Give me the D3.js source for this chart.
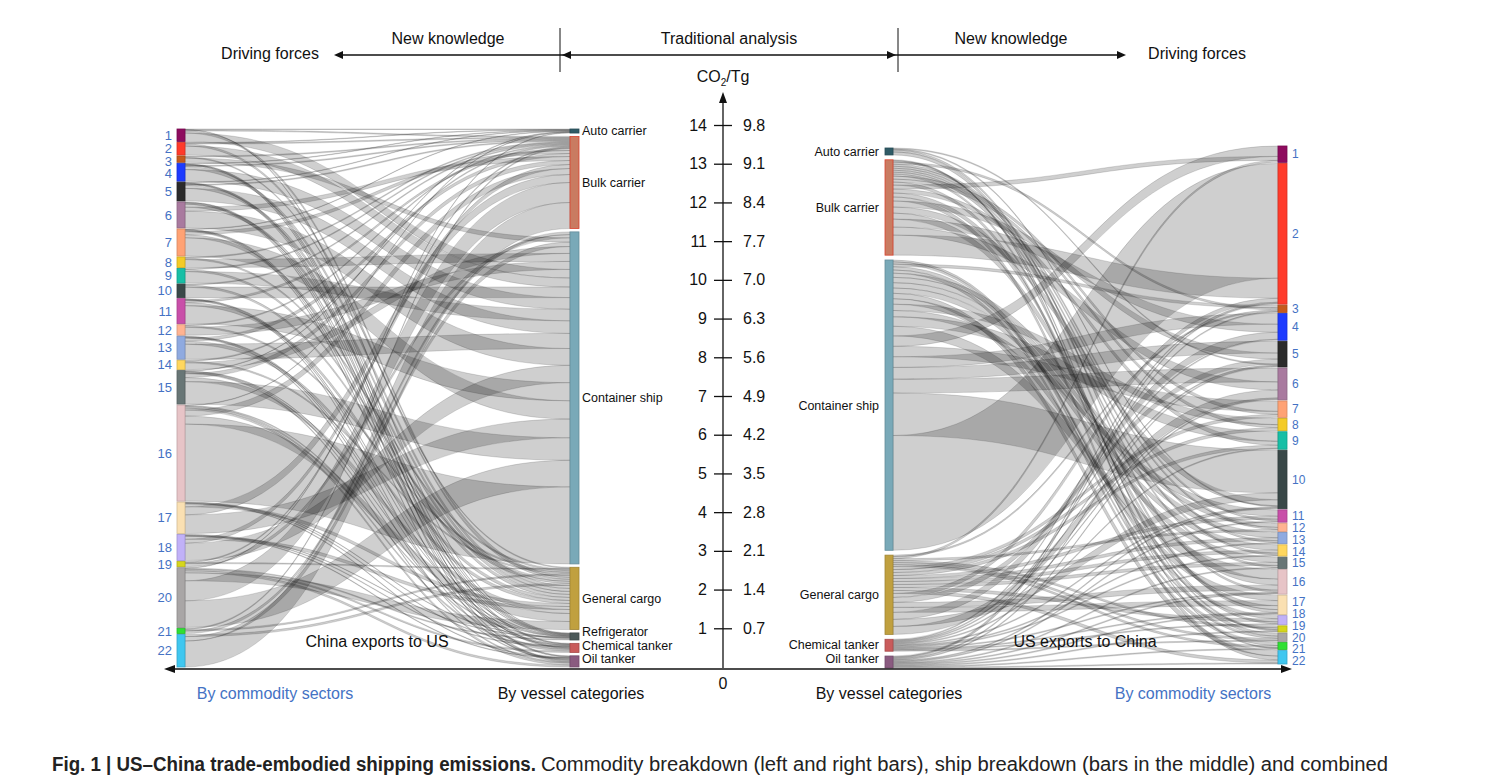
<!DOCTYPE html>
<html>
<head>
<meta charset="utf-8">
<script src="https://cdn.jsdelivr.net/npm/d3@7"></script>
<style>
  body { margin: 0; background: #fff; }
  text { font-family: "Liberation Sans", Arial, Helvetica, sans-serif; }
</style>
</head>
<body>
<svg id="chart" width="1493" height="776"></svg>
<script>
// ---- data (Tg CO2) ----
var sectors = d3.range(1, 23).map(String);
var sectorColors = ["#8e0b5e", "#ff3b2b", "#c65a1c", "#1d3bff", "#2b2b2b", "#a97a9f", "#ffa274",
  "#f4cb26", "#17bfa6", "#394848", "#c94fa9", "#ffb391", "#8faae0", "#ffd75e", "#687676",
  "#e7c4c7", "#fae0b2", "#c1b1f8", "#d6d61c", "#a9a6a6", "#2fe033", "#3fc7f0"];

var vesselsCN = ["Auto carrier", "Bulk carrier", "Container ship", "General cargo", "Refrigerator", "Chemical tanker", "Oil tanker"];
var vesselsUS = ["Auto carrier", "Bulk carrier", "Container ship", "General cargo", "Chemical tanker", "Oil tanker"];
var vesselColors = {
  "Auto carrier": "#2f5b66", "Bulk carrier": "#c97b61", "Container ship": "#79a9b8",
  "General cargo": "#c0a03f", "Refrigerator": "#4b5959", "Chemical tanker": "#c95b5b", "Oil tanker": "#8a5b80"
};

// China exports to US, by sector 1..22, one array per vessel category
var cnAuto      = [.013,.013,0,.013,.013,0,.013,0,0,0,0,0,0,0,.013,.013,0,0,0,.013,0,0];
var cnBulk      = [.026,.026,.026,.026,.026,.103,.078,.026,.026,.026,.052,.026,.078,.026,.103,.155,.207,.103,.026,.517,.026,.672];
var cnContainer = [.220,.233,.111,.300,.326,.434,.473,.207,.300,.274,.468,.207,.390,.178,.581,1.990,.483,.447,.083,.687,.070,.114];
var cnGeneral   = [.052,.052,.026,.078,.078,.078,.078,.039,.052,.052,.078,.039,.078,.039,.103,.207,.078,.078,.026,.207,.039,.052];
var cnRefrig    = [.013,0,0,.013,.013,.013,.013,0,0,0,.013,0,.013,0,.013,.026,.013,.013,0,.026,0,0];
var cnChem      = [0,0,0,.016,.016,.018,.018,0,0,0,.016,0,.016,0,.026,.039,.016,.016,0,.039,0,0];
var cnOil       = [0,0,0,.016,.016,.026,.026,0,0,0,.021,0,.021,0,.026,.052,.016,.016,0,.052,0,0];

// US exports to China
var usAuto      = [0,0,0,0,.018,0,0,0,0,.018,0,0,0,0,0,.036,.054,0,0,0,0,0];
var usBulk      = [.072,.362,.036,.145,.109,.145,.054,.054,.072,.109,.036,.036,.036,.036,.036,.109,.072,.036,.025,.054,.018,.072];
var usContainer = [.188,2.075,.049,.194,.212,.250,.188,.114,.172,.769,.114,.076,.096,.096,.096,.174,.099,.058,.033,.040,.058,.098];
var usGeneral   = [.036,.072,.027,.127,.090,.145,.054,.054,.054,.127,.054,.036,.054,.054,.054,.090,.090,.054,.036,.036,.036,.054];
var usChem      = [0,.018,0,.018,.018,.018,0,0,.018,.018,0,0,.018,.018,0,.018,.018,.018,0,.018,0,0];
var usOil       = [0,.018,.018,0,.018,.018,0,0,0,.018,.018,0,0,0,.018,.018,.018,0,.018,0,.018,.018];

var ticksCN = d3.range(1, 15);                                  // left axis labels
var ticksUS = [0.7, 1.4, 2.1, 2.8, 3.5, 4.2, 4.9, 5.6, 6.3, 7.0, 7.7, 8.4, 9.1, 9.8]; // right axis labels

// ---- setup ----
var svg = d3.select("#chart");
svg.append("rect").attr("width", 1493).attr("height", 776).attr("fill", "#fff");

var yCN = d3.scaleLinear().domain([0, 14]).range([667, 125]),
    yUS = d3.scaleLinear().domain([0, 9.8]).range([667, 125]),
    kCN = d3.scaleLinear().domain([0, 14]).range([0, 542]),
    kUS = d3.scaleLinear().domain([0, 9.8]).range([0, 542]),
    blue = "#4472c4";

// Build nodes/links for one panel
function build(leftNames, rightNames, rows, leftIsSector) {
  var left = leftNames.map(function(n, i) { return {name: n, i: i, out: [], in: []}; }),
      right = rightNames.map(function(n, i) { return {name: n, i: i, out: [], in: []}; }),
      links = [];
  rows.forEach(function(vals, j) { // j = vessel index
    vals.forEach(function(v, i) { // i = sector index
      if (!v) return;
      var s = leftIsSector ? left[i] : left[j],
          t = leftIsSector ? right[j] : right[i],
          l = {source: s, target: t, value: v};
      s.out.push(l); t.in.push(l); links.push(l);
    });
  });
  left.concat(right).forEach(function(n) {
    n.value = Math.max(d3.sum(n.out, function(l) { return l.value; }), d3.sum(n.in, function(l) { return l.value; }));
  });
  return {left: left, right: right, links: links};
}

function stack(nodes, top, bottom, k) {
  var total = d3.sum(nodes, function(n) { return n.value; }),
      pad = (bottom - top - k(total)) / (nodes.length - 1),
      y = top;
  nodes.forEach(function(n) {
    n.y0 = y; n.y1 = y + k(n.value); y = n.y1 + pad;
  });
}

// links ordered by value at each end; dirL/dirR = 1 smallest on top, -1 largest on top
function place(g, k, dirL, dirR) {
  g.left.forEach(function(n) {
    var y = n.y0;
    n.out.sort(function(a, b) { return dirL * (a.value - b.value) || a.target.i - b.target.i; })
      .forEach(function(l) { l.sy0 = y; y += k(l.value); l.sy1 = y; });
  });
  g.right.forEach(function(n) {
    var y = n.y0;
    n.in.sort(function(a, b) { return dirR * (a.value - b.value) || a.source.i - b.source.i; })
      .forEach(function(l) { l.ty0 = y; y += k(l.value); l.ty1 = y; });
  });
}

function ribbon(l, x0, x1) {
  var xm = (x0 + x1) / 2, p = d3.path();
  p.moveTo(x0, l.sy0);
  p.bezierCurveTo(xm, l.sy0, xm, l.ty0, x1, l.ty0);
  p.lineTo(x1, l.ty1);
  p.bezierCurveTo(xm, l.ty1, xm, l.sy1, x0, l.sy1);
  p.closePath();
  return p.toString();
}

// spread label positions so they keep a minimum gap
function spread(nodes, gap, lo, hi) {
  nodes.forEach(function(n) { n.ly = (n.y0 + n.y1) / 2; });
  nodes[0].ly = Math.max(nodes[0].ly, lo);
  for (var i = 1; i < nodes.length; i++)
    nodes[i].ly = Math.max(nodes[i].ly, nodes[i - 1].ly + gap);
  nodes[nodes.length - 1].ly = Math.min(nodes[nodes.length - 1].ly, hi);
  for (i = nodes.length - 2; i >= 0; i--)
    nodes[i].ly = Math.min(nodes[i].ly, nodes[i + 1].ly - gap);
}

function drawPanel(g, x0, x1, w0, w1) {
  var panel = svg.append("g");
  panel.append("g").selectAll("path")
      .data(g.links.slice().sort(function(a, b) { return b.value - a.value; }))
      .enter().append("path")
      .attr("d", function(d) { return ribbon(d, x0 + w0, x1); })
      .attr("fill", "rgba(0,0,0,0.19)")
      .attr("stroke", "rgba(40,40,40,0.3)")
      .attr("stroke-width", 0.55);
  [[g.left, x0, w0], [g.right, x1, w1]].forEach(function(c) {
    panel.append("g").selectAll("rect")
        .data(c[0]).enter().append("rect")
        .attr("x", c[1]).attr("width", c[2])
        .attr("y", function(d) { return d.y0; })
        .attr("height", function(d) { return Math.max(1, d.y1 - d.y0); })
        .attr("fill", function(d) { return d.color; })
        .attr("stroke", function(d) { return d.name === "Bulk carrier" ? "#d9432f" : d3.color(d.color).darker(0.5); })
        .attr("stroke-width", 0.8);
  });
  return panel;
}

function labels(panel, nodes, x, anchor, size, color) {
  panel.append("g").selectAll("text").data(nodes).enter().append("text")
      .attr("x", x).attr("y", function(d) { return d.ly; })
      .attr("dy", "0.35em").attr("text-anchor", anchor)
      .attr("font-size", size).attr("fill", color)
      .text(function(d) { return d.name; });
}

// ---- China exports to US ----
var cn = build(sectors, vesselsCN, [cnAuto, cnBulk, cnContainer, cnGeneral, cnRefrig, cnChem, cnOil], true);
cn.left.forEach(function(n) { n.color = sectorColors[n.i]; });
cn.right.forEach(function(n) { n.color = vesselColors[n.name]; });
stack(cn.left, 129, 667, kCN);
stack(cn.right, 129, 667, kCN);
place(cn, kCN, 1, 1);
var pCN = drawPanel(cn, 177, 570, 8, 9);
spread(cn.left, 12.5, 134, 662);
spread(cn.right, 13.5, 131, 659);
labels(pCN, cn.left, 172, "end", 13, blue);
labels(pCN, cn.right, 582, "start", 12.5, "#111");

// ---- US exports to China ----
var us = build(vesselsUS, sectors, [usAuto, usBulk, usContainer, usGeneral, usChem, usOil], false);
us.left.forEach(function(n) { n.color = vesselColors[n.name]; });
us.right.forEach(function(n) { n.color = sectorColors[n.i]; });
stack(us.left, 148, 668, kUS);
stack(us.right, 146, 664, kUS);
place(us, kUS, 1, -1);
var pUS = drawPanel(us, 885, 1278, 8, 9);
spread(us.left, 14, 151, 659);
spread(us.right, 11.8, 152, 661);
labels(pUS, us.left, 879, "end", 12.5, "#111");
labels(pUS, us.right, 1292, "start", 12, blue);

// ---- centre axis ----
var axisG = svg.append("g").attr("transform", "translate(723,0)");
axisG.append("g").call(d3.axisLeft(yCN).tickValues(ticksCN).tickSize(9).tickPadding(7).tickFormat(d3.format("d")));
axisG.append("g").call(d3.axisRight(yUS).tickValues(ticksUS).tickSize(9).tickPadding(11).tickFormat(d3.format(".1f")));
axisG.selectAll(".domain").remove();
axisG.selectAll(".tick line").attr("stroke", "#111").attr("stroke-width", 1.3);
axisG.selectAll(".tick text").attr("font-size", 16).attr("fill", "#111")
    .attr("font-family", "'Liberation Sans', Arial, sans-serif");
axisG.append("line").attr("y1", 668).attr("y2", 100).attr("stroke", "#111").attr("stroke-width", 1.3);
axisG.append("path").attr("d", "M0,92L-4,103L4,103Z").attr("fill", "#111");
var co2 = axisG.append("text").attr("y", 82).attr("text-anchor", "middle").attr("font-size", 16).attr("fill", "#111");
co2.append("tspan").text("CO");
co2.append("tspan").attr("font-size", 10).attr("dy", 4).text("2");
co2.append("tspan").attr("dy", -4).text("/Tg");
axisG.append("text").attr("y", 689).attr("text-anchor", "middle").attr("font-size", 16).attr("fill", "#111").text("0");

// ---- baseline with arrows ----
svg.append("line").attr("x1", 172).attr("x2", 1284).attr("y1", 669).attr("y2", 669)
    .attr("stroke", "#111").attr("stroke-width", 1.3);
svg.append("path").attr("d", "M164,669L175,665L175,673Z").attr("fill", "#111");
svg.append("path").attr("d", "M1292,669L1281,665L1281,673Z").attr("fill", "#111");

// ---- header ----
var head = svg.append("g").attr("fill", "#111").attr("font-size", 16);
head.append("text").attr("x", 270).attr("y", 59).attr("text-anchor", "middle").text("Driving forces");
head.append("text").attr("x", 448).attr("y", 44).attr("text-anchor", "middle").text("New knowledge");
head.append("text").attr("x", 729).attr("y", 44).attr("text-anchor", "middle").text("Traditional analysis");
head.append("text").attr("x", 1011).attr("y", 44).attr("text-anchor", "middle").text("New knowledge");
head.append("text").attr("x", 1197).attr("y", 59).attr("text-anchor", "middle").text("Driving forces");
head.append("line").attr("x1", 340).attr("x2", 1120).attr("y1", 55).attr("y2", 55).attr("stroke", "#111").attr("stroke-width", 1.3);
[560, 898].forEach(function(x) {
  head.append("line").attr("x1", x).attr("x2", x).attr("y1", 28).attr("y2", 72).attr("stroke", "#111").attr("stroke-width", 1);
});
[[334, -1], [562, -1], [896, 1], [1126, 1]].forEach(function(a) {
  var x = a[0], d = a[1];
  head.append("path").attr("d", "M" + x + ",55L" + (x - d * 9) + ",51L" + (x - d * 9) + ",59Z");
});

// ---- panel titles & column labels ----
var lab = svg.append("g").attr("font-size", 16);
lab.append("text").attr("x", 377).attr("y", 647).attr("text-anchor", "middle").attr("fill", "#111").text("China exports to US");
lab.append("text").attr("x", 1085).attr("y", 647).attr("text-anchor", "middle").attr("fill", "#111").text("US exports to China");
lab.append("text").attr("x", 275).attr("y", 699).attr("text-anchor", "middle").attr("fill", blue).text("By commodity sectors");
lab.append("text").attr("x", 571).attr("y", 699).attr("text-anchor", "middle").attr("fill", "#111").text("By vessel categories");
lab.append("text").attr("x", 889).attr("y", 699).attr("text-anchor", "middle").attr("fill", "#111").text("By vessel categories");
lab.append("text").attr("x", 1193).attr("y", 699).attr("text-anchor", "middle").attr("fill", blue).text("By commodity sectors");

// ---- caption ----
var cap = svg.append("g").attr("fill", "#222").attr("font-size", 20)
    .style("font-family", "'Liberation Sans Narrow', 'DejaVu Sans Condensed', Arial, sans-serif");
cap.append("text").attr("x", 52).attr("y", 771).attr("font-weight", "bold")
    .attr("textLength", 484).attr("lengthAdjust", "spacingAndGlyphs")
    .text("Fig. 1 | US\u2013China trade-embodied shipping emissions.");
cap.append("text").attr("x", 541).attr("y", 771)
    .attr("textLength", 847).attr("lengthAdjust", "spacingAndGlyphs")
    .text("Commodity breakdown (left and right bars), ship breakdown (bars in the middle) and combined");
</script>
</body>
</html>
